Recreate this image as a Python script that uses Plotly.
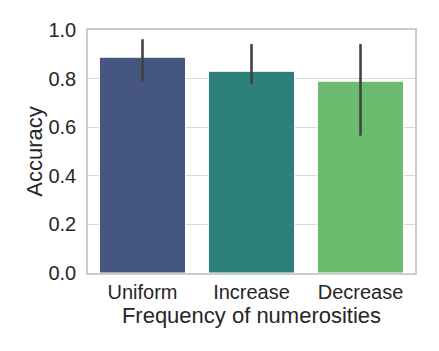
import plotly.graph_objects as go

# --- chart data ---
categories = ["Uniform", "Increase", "Decrease"]
accuracy = [0.888, 0.830, 0.789]
ci_upper = [0.962, 0.942, 0.942]
ci_lower = [0.787, 0.776, 0.565]
bar_colors = ["#45567f", "#2e817b", "#6bbc6e"]

err_plus = [u - v for u, v in zip(ci_upper, accuracy)]
err_minus = [v - l for v, l in zip(accuracy, ci_lower)]

fig = go.Figure(go.Bar(
    x=categories,
    y=accuracy,
    marker=dict(color=bar_colors, line=dict(color="white", width=1)),
    error_y=dict(type="data", symmetric=False, array=err_plus, arrayminus=err_minus,
                 color="#424242", thickness=2.6, width=0),
))

# page body has an 8px margin, so the margins are offset to put the axes box in place
fig.update_layout(
    width=439, height=351,
    margin=dict(l=80, r=32, t=22, b=86),
    paper_bgcolor="white", plot_bgcolor="white",
    font=dict(family="Liberation Sans, Arial", size=20, color="#262626"),
    bargap=0.21,
    showlegend=False,
)
fig.update_xaxes(
    title=dict(text="Frequency of numerosities", font=dict(size=22), standoff=0),
    showline=True, linecolor="#cccccc", linewidth=1.5, mirror=True,
    showgrid=False, ticks="", ticklabelstandoff=0, automargin=False,
)
fig.update_yaxes(
    title=dict(text="Accuracy", font=dict(size=22), standoff=0),
    range=[0, 1.0], tickvals=[0, 0.2, 0.4, 0.6, 0.8, 1.0], tickformat=".1f",
    showline=True, linecolor="#cccccc", linewidth=1.5, mirror=True,
    showgrid=True, gridcolor="#d9d9d9", gridwidth=1.2, zeroline=False,
    ticks="", ticklabelstandoff=6, automargin=False,
)

fig.write_html("out.html")
